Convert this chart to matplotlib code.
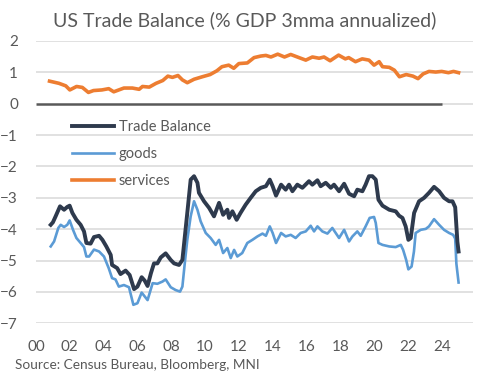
import matplotlib.pyplot as plt

plt.rcParams['font.family'] = ['Lato', 'DejaVu Sans']

# decimal years / values
tb_x = [2000.87, 2001.0, 2001.16, 2001.42, 2001.66, 2001.85, 2001.99, 2002.15, 2002.39, 2002.64,
        2002.84, 2002.98, 2003.23, 2003.43, 2003.73, 2003.93, 2004.16, 2004.42, 2004.5, 2004.8,
        2005.0, 2005.3, 2005.54, 2005.8, 2006.0, 2006.25, 2006.43, 2006.6, 2006.8, 2006.98,
        2007.18, 2007.38, 2007.67, 2007.97, 2008.17, 2008.46, 2008.66, 2008.95, 2009.15, 2009.35,
        2009.55, 2009.64, 2009.94, 2010.24, 2010.53, 2010.83, 2011.07, 2011.32, 2011.42, 2011.62,
        2011.87, 2012.1, 2012.4, 2012.7, 2013.0, 2013.3, 2013.6, 2013.83, 2014.0, 2014.2,
        2014.5, 2014.77, 2014.97, 2015.17, 2015.46, 2015.76, 2016.15, 2016.35, 2016.65, 2016.84,
        2017.14, 2017.44, 2017.63, 2017.93, 2018.23, 2018.52, 2018.82, 2019.01, 2019.31, 2019.5,
        2019.7, 2019.9, 2020.1, 2020.26, 2020.5, 2020.9, 2021.28, 2021.48, 2021.68, 2021.87,
        2022.03, 2022.17, 2022.37, 2022.66, 2022.96, 2023.25, 2023.55, 2023.85, 2024.14, 2024.44,
        2024.64, 2024.8, 2024.93, 2025.0]
tb_y = [-3.86, -3.78, -3.59, -3.27, -3.38, -3.29, -3.25, -3.48, -3.70, -3.86,
        -4.07, -4.44, -4.46, -4.25, -4.21, -4.34, -4.55, -4.82, -5.14, -5.24,
        -5.43, -5.32, -5.46, -5.91, -5.83, -5.53, -5.64, -5.81, -5.40, -5.09,
        -5.09, -4.90, -4.77, -4.98, -5.09, -5.14, -4.98, -3.48, -2.42, -2.31,
        -2.52, -2.84, -3.11, -3.32, -3.59, -3.16, -3.54, -3.38, -3.64, -3.43,
        -3.70, -3.48, -3.22, -3.00, -2.79, -2.68, -2.63, -2.42, -2.63, -2.93,
        -2.58, -2.74, -2.58, -2.79, -2.58, -2.68, -2.47, -2.58, -2.44, -2.63,
        -2.52, -2.68, -2.58, -2.79, -2.55, -2.87, -2.95, -2.74, -2.79, -2.58,
        -2.31, -2.31, -2.42, -3.06, -3.25, -3.38, -3.43, -3.57, -3.64, -3.91,
        -4.34, -4.28, -3.48, -3.11, -3.00, -2.84, -2.65, -2.79, -3.00, -3.11,
        -3.11, -3.30, -4.40, -4.71]

goods_x = [2000.87, 2001.07, 2001.32, 2001.46, 2001.66, 2001.85, 2001.99, 2002.19, 2002.39, 2002.64,
           2002.84, 2002.98, 2003.14, 2003.43, 2003.73, 2004.02, 2004.3, 2004.5, 2004.7, 2004.9,
           2005.2, 2005.5, 2005.76, 2006.0, 2006.25, 2006.6, 2006.9, 2007.18, 2007.48, 2007.67,
           2007.97, 2008.26, 2008.52, 2008.66, 2008.8, 2008.95, 2009.15, 2009.35, 2009.55, 2009.74,
           2010.04, 2010.33, 2010.63, 2010.83, 2011.07, 2011.32, 2011.52, 2011.72, 2011.91, 2012.2,
           2012.5, 2012.8, 2013.1, 2013.4, 2013.6, 2013.83, 2014.0, 2014.2, 2014.5, 2014.77,
           2015.07, 2015.36, 2015.66, 2015.96, 2016.25, 2016.45, 2016.65, 2016.94, 2017.24, 2017.53,
           2017.73, 2017.93, 2018.23, 2018.52, 2018.72, 2019.01, 2019.21, 2019.5, 2019.74, 2020.0,
           2020.1, 2020.26, 2020.5, 2020.9, 2021.28, 2021.58, 2021.72, 2021.9, 2022.03, 2022.22,
           2022.36, 2022.46, 2022.76, 2023.06, 2023.25, 2023.55, 2023.85, 2024.14, 2024.44, 2024.68,
           2024.8, 2024.87, 2025.0]
goods_y = [-4.55, -4.39, -3.96, -3.86, -3.93, -3.86, -3.72, -4.02, -4.28, -4.44,
           -4.57, -4.87, -4.87, -4.65, -4.71, -4.87, -5.24, -5.56, -5.60, -5.83,
           -5.78, -5.85, -6.41, -6.36, -6.02, -6.26, -5.72, -5.74, -5.67, -5.60,
           -5.85, -5.94, -5.99, -5.83, -5.09, -4.34, -3.59, -3.11, -3.38, -3.75,
           -4.12, -4.28, -4.50, -4.34, -4.76, -4.60, -4.92, -4.66, -4.87, -4.76,
           -4.44, -4.34, -4.23, -4.14, -4.21, -3.91, -4.12, -4.44, -4.12, -4.23,
           -4.18, -4.28, -4.12, -4.07, -3.89, -4.07, -3.91, -4.07, -4.14, -3.96,
           -4.12, -4.28, -4.02, -4.39, -4.23, -4.07, -4.21, -3.91, -3.64, -3.61,
           -3.80, -4.44, -4.50, -4.55, -4.57, -4.50, -4.66, -4.98, -5.28, -5.19,
           -4.71, -4.12, -4.02, -3.99, -3.91, -3.68, -3.86, -4.02, -4.12, -4.18,
           -4.30, -5.10, -5.70]

serv_x = [2000.8, 2001.36, 2001.76, 2002.0, 2002.4, 2002.74, 2003.1, 2003.4, 2003.9, 2004.3,
          2004.6, 2005.2, 2005.7, 2006.1, 2006.3, 2006.7, 2007.1, 2007.5, 2007.8, 2008.07,
          2008.4, 2008.66, 2008.95, 2009.35, 2009.84, 2010.3, 2010.7, 2011.0, 2011.4, 2011.7,
          2012.0, 2012.5, 2012.9, 2013.3, 2013.6, 2013.9, 2014.3, 2014.7, 2015.07, 2015.56,
          2015.96, 2016.35, 2016.75, 2017.04, 2017.4, 2017.9, 2018.3, 2018.5, 2018.9, 2019.3,
          2019.7, 2020.0, 2020.3, 2020.5, 2020.9, 2021.2, 2021.5, 2021.9, 2022.3, 2022.6,
          2022.9, 2023.25, 2023.65, 2024.0, 2024.4, 2024.7, 2025.0]
serv_y = [0.72, 0.65, 0.57, 0.44, 0.55, 0.52, 0.36, 0.42, 0.44, 0.48,
          0.38, 0.50, 0.50, 0.46, 0.55, 0.53, 0.65, 0.74, 0.88, 0.84,
          0.90, 0.76, 0.67, 0.78, 0.86, 0.93, 1.05, 1.18, 1.23, 1.13,
          1.28, 1.30, 1.47, 1.52, 1.54, 1.49, 1.58, 1.49, 1.57, 1.47,
          1.39, 1.49, 1.45, 1.49, 1.37, 1.55, 1.43, 1.47, 1.34, 1.43,
          1.39, 1.23, 1.34, 1.18, 1.16, 1.07, 0.86, 0.93, 0.88, 0.80,
          0.95, 1.03, 1.01, 1.03, 0.99, 1.03, 0.99]

x_ticks = list(range(2000, 2025, 2))
x_labels = ['%02d' % (y % 100) for y in x_ticks]
y_ticks = list(range(-7, 3))

grey = '#595959'

fig = plt.figure(figsize=(4.88, 3.72), dpi=100)
ax = fig.add_axes([0.0738, 0.1309, 0.8950, 0.7589])

for t in y_ticks:
    if t != 0:
        ax.axhline(t, color='#D9D9D9', lw=1.1, zorder=0)
ax.axhline(0, xmin=(2024 - 2000) / 25.84, xmax=1, color='#D9D9D9', lw=1.1, zorder=0)
ax.plot([2000, 2024], [0, 0], color=grey, lw=1.8, zorder=1, solid_capstyle='butt')

ax.plot(tb_x, tb_y, color='#2E3A4D', lw=2.8, label='Trade Balance', zorder=3)
ax.plot(goods_x, goods_y, color='#5B9BD5', lw=1.9, label='goods', zorder=2)
ax.plot(serv_x, serv_y, color='#ED7D31', lw=2.6, label='services', zorder=3)

ax.set_xlim(2000, 2025.84)
ax.set_ylim(-7, 2)
ax.set_xticks(x_ticks)
ax.set_xticklabels(x_labels)
ax.set_yticks(y_ticks)
ax.tick_params(axis='both', length=0, labelsize=11, colors=grey)
ax.tick_params(axis='x', pad=12)
ax.tick_params(axis='y', pad=13)
for s in ax.spines.values():
    s.set_visible(False)

fig.legend(loc='upper left', bbox_to_anchor=(0.1475, 0.678), frameon=False,
           fontsize=10.5, handlelength=2.9, handletextpad=0.3, labelspacing=0.9,
           borderpad=0, borderaxespad=0, labelcolor=grey)

fig.text(0.502, 0.946, 'US Trade Balance (% GDP 3mma annualized)', ha='center', va='center',
         fontsize=14, color=grey)
fig.text(15 / 488, 1 - 365 / 372, 'Source: Census Bureau, Bloomberg, MNI', ha='left', va='center',
         fontsize=9.8, color=grey)

fig.savefig('out.png', dpi=100)
